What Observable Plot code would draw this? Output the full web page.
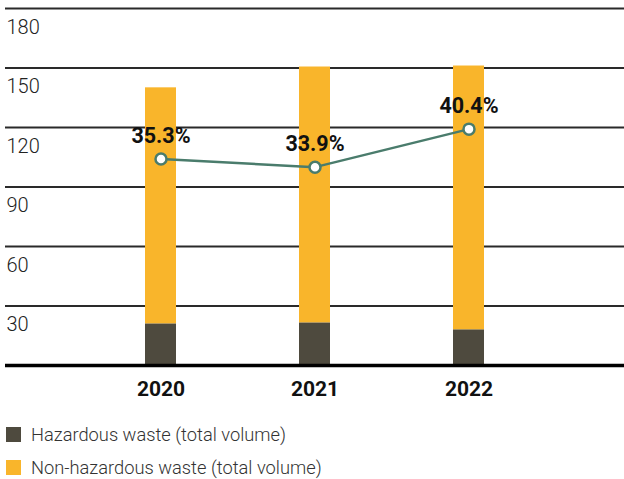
<!DOCTYPE html>
<html>
<head>
<meta charset="utf-8">
<script src="https://cdn.jsdelivr.net/npm/d3@7"></script>
<script src="https://cdn.jsdelivr.net/npm/@observablehq/plot@0.6"></script>
<style>
  html, body { margin: 0; padding: 0; background: #fff; }
  body { width: 624px; height: 479px; overflow: hidden; font-family: Roboto, "DejaVu Sans", sans-serif; }
  .legend { position: absolute; left: 6px; top: 424px; }
  .legend .row { display: flex; align-items: center; height: 20px; margin-bottom: 13px; font-size: 18.3px; font-weight: 300; color: #333; }
  .legend .sw { width: 15px; height: 15px; margin-right: 10px; }
</style>
</head>
<body>
<div id="chart"></div>
<div class="legend" id="legend"></div>
<script>
const years = ["2020", "2021", "2022"];
const hazardous = [21, 21.5, 18];
const nonHazardous = [119, 129, 133];
const hazardousSharePct = [35.3, 33.9, 40.4];
const yTicks = [30, 60, 90, 120, 150, 180];
const seriesNames = ["Hazardous waste (total volume)", "Non-hazardous waste (total volume)"];
const seriesColors = ["#4e4a3e", "#f9b52b"];
const lineColor = "#4a7c6c";
const pctToAxis = 2.95;

const stacked = [];
years.forEach((y, i) => {
  stacked.push({year: y, series: seriesNames[0], value: hazardous[i]});
  stacked.push({year: y, series: seriesNames[1], value: nonHazardous[i]});
});
const share = years.map((y, i) => ({year: y, pct: hazardousSharePct[i]}));

const chart = Plot.plot({
  width: 624,
  height: 410,
  marginTop: 8,
  marginBottom: 45,
  marginLeft: 5,
  marginRight: 0,
  style: {fontFamily: "Roboto, 'DejaVu Sans', sans-serif", background: "#fff"},
  x: {domain: years, range: [83, 545], paddingInner: 0.8, paddingOuter: 0.4, axis: null},
  y: {domain: [0, 180], axis: null},
  color: {domain: seriesNames, range: seriesColors},
  marks: [
    Plot.ruleY(yTicks, {stroke: "#2a2a2a", strokeWidth: 2}),
    Plot.text(yTicks, {y: d => d, frameAnchor: "left", textAnchor: "start", lineAnchor: "middle", dy: 19, dx: 1, text: d => String(d), fontSize: 20, fontWeight: 300, fill: "#222"}),
    Plot.barY(stacked, {x: "year", y: "value", fill: "series", order: seriesNames}),
    Plot.ruleY([0], {stroke: "#000", strokeWidth: 3.5}),
    Plot.text(years, {x: d => d, frameAnchor: "bottom", lineAnchor: "middle", dy: 24, text: d => d, fontSize: 21, fontWeight: "bold", fill: "#111"}),
    Plot.line(share, {x: "year", y: d => d.pct * pctToAxis, stroke: lineColor, strokeWidth: 2.5}),
    Plot.dot(share, {x: "year", y: d => d.pct * pctToAxis, r: 5.5, fill: "#fff", stroke: lineColor, strokeWidth: 2.5}),
    Plot.text(share, {x: "year", y: d => d.pct * pctToAxis, dy: -23, text: d => d.pct.toFixed(1) + "%", fontSize: 21.5, fontWeight: "bold", fill: "#111"})
  ]
});
document.getElementById("chart").append(chart);

const legend = document.getElementById("legend");
seriesNames.forEach((name, i) => {
  const row = document.createElement("div");
  row.className = "row";
  const sw = document.createElement("div");
  sw.className = "sw";
  sw.style.background = seriesColors[i];
  const t = document.createElement("span");
  t.textContent = name;
  row.append(sw, t);
  legend.append(row);
});
</script>
</body>
</html>
